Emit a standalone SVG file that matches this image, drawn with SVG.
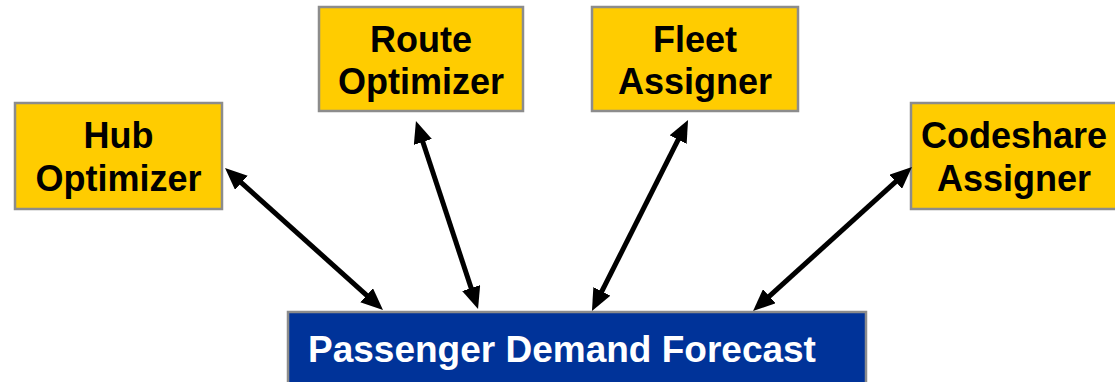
<svg xmlns="http://www.w3.org/2000/svg" width="1115" height="382" viewBox="0 0 1115 382">
  <style>
    .box { fill: #FFCC00; stroke: #8C8C8C; stroke-width: 2.5; }
    .hub { fill: #003399; stroke: #8C8C8C; stroke-width: 2.5; }
    .lbl { font-family: "Liberation Sans", Arial, sans-serif; font-weight: bold; font-size: 36px; fill: #000; text-anchor: middle; }
    .lblw { font-family: "Liberation Sans", Arial, sans-serif; font-weight: bold; font-size: 37px; fill: #fff; }
    .conn { stroke: #000; stroke-width: 5; fill: none; marker-start: url(#head); marker-end: url(#head); }
  </style>
  <defs>
    <marker id="head" markerUnits="userSpaceOnUse" viewBox="0 0 22 19" markerWidth="22" markerHeight="19" refX="11" refY="9.5" orient="auto-start-reverse">
      <path d="M0,0 L22,9.5 L0,19 z" fill="#000"/>
    </marker>
  </defs>
  <rect width="1115" height="382" fill="#fff"/>

  <g id="hub-optimizer">
    <rect class="box" x="15" y="103" width="207" height="106"/>
    <text class="lbl" x="118.5" y="148">Hub</text>
    <text class="lbl" x="118.5" y="191">Optimizer</text>
  </g>

  <g id="route-optimizer">
    <rect class="box" x="319" y="7" width="204" height="104"/>
    <text class="lbl" x="421" y="52">Route</text>
    <text class="lbl" x="421" y="94">Optimizer</text>
  </g>

  <g id="fleet-assigner">
    <rect class="box" x="592" y="7" width="206" height="104"/>
    <text class="lbl" x="695" y="52">Fleet</text>
    <text class="lbl" x="695" y="94">Assigner</text>
  </g>

  <g id="codeshare-assigner">
    <rect class="box" x="911" y="103" width="206" height="106"/>
    <text class="lbl" x="1014" y="148">Codeshare</text>
    <text class="lbl" x="1014" y="191">Assigner</text>
  </g>

  <g id="passenger-demand-forecast">
    <rect class="hub" x="288" y="312" width="578" height="80"/>
    <text class="lblw" x="308" y="362">Passenger Demand Forecast</text>
  </g>

  <g id="connectors">
    <line class="conn" x1="233.2" y1="175.4" x2="374.8" y2="302.6"/>
    <line class="conn" x1="419.4" y1="131.5" x2="474.6" y2="298.5"/>
    <line class="conn" x1="683.1" y1="129.8" x2="596.9" y2="301.2"/>
    <line class="conn" x1="903.8" y1="174.4" x2="761.2" y2="303.6"/>
  </g>
</svg>
